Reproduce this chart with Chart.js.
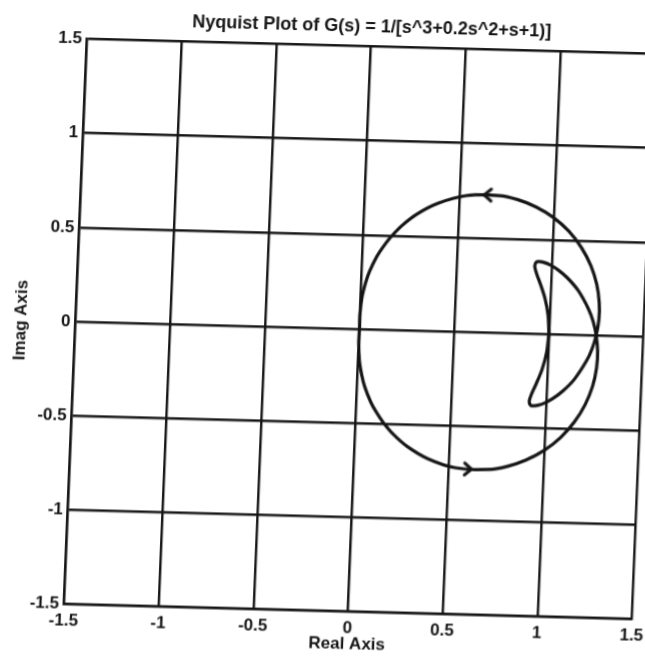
<!DOCTYPE html>
<html>
<head>
<meta charset="utf-8">
<title>Nyquist Plot</title>
<script src="https://cdn.jsdelivr.net/npm/chart.js"></script>
<style>
  html, body { margin: 0; padding: 0; background: #fff; overflow: hidden; width: 645px; height: 661px; }
  /* the scanned figure is slightly skewed, so the whole chart is too */
  .wrap { position: absolute; left: 0; top: 0; width: 700px; height: 700px;
          transform-origin: 359.5px 329px; transform: matrix(1, 0.0264, -0.0407, 1, 0, 0); }
</style>
</head>
<body>
<div class="wrap"><canvas class="nyq" width="700" height="700"></canvas></div>
<script>
// G(jw) for w >= 0
const posRe = [1.000, 0.992, 0.972, 0.945, 0.922, 0.911, 0.920, 0.935, 0.959, 0.991, 1.034, 1.086, 1.146, 1.205, 1.231, 1.250, 1.261, 1.259, 1.242, 1.207, 1.154, 1.084, 1.000, 0.906, 0.808, 0.711, 0.533, 0.388, 0.279, 0.200, 0.144, 0.104, 0.075, 0.040, 0.022, 0.006, -0.001, 0.000];
const posIm = [0.000, -0.098, -0.188, -0.263, -0.320, -0.360, -0.381, -0.383, -0.379, -0.367, -0.342, -0.300, -0.234, -0.136, -0.073, 0.000, 0.083, 0.174, 0.270, 0.368, 0.462, 0.547, 0.618, 0.672, 0.708, 0.727, 0.722, 0.678, 0.618, 0.553, 0.491, 0.435, 0.386, 0.306, 0.246, 0.167, 0.076, 0.000];
// w <= 0 (mirror branch)
const negRe = [1.000, 0.992, 0.972, 0.945, 0.922, 0.911, 0.920, 0.935, 0.959, 0.991, 1.034, 1.086, 1.146, 1.205, 1.231, 1.250, 1.261, 1.259, 1.242, 1.207, 1.154, 1.084, 1.000, 0.906, 0.808, 0.711, 0.533, 0.388, 0.279, 0.200, 0.144, 0.104, 0.075, 0.040, 0.022, 0.006, -0.001, 0.000];
const negIm = [0.000, 0.098, 0.188, 0.263, 0.320, 0.360, 0.381, 0.383, 0.379, 0.367, 0.342, 0.300, 0.234, 0.136, 0.073, 0.000, -0.083, -0.174, -0.270, -0.368, -0.462, -0.547, -0.618, -0.672, -0.708, -0.727, -0.722, -0.678, -0.618, -0.553, -0.491, -0.435, -0.386, -0.306, -0.246, -0.167, -0.076, 0.000];

// direction arrows on the big loop
const arrowRe = [0.65, 0.60];
const arrowIm = [0.729, -0.728];
const arrowRot = [0, 180];

const xTicks = [-1.5, -1, -0.5, 0, 0.5, 1, 1.5];
const xTickLabels = ['-1.5', '-1', '-0.5', '0', '0.5', '1', '1.5'];
const yTicks = [-1.5, -1, -0.5, 0, 0.5, 1, 1.5];
const yTickLabels = ['-1.5', '-1', '-0.5', '0', '0.5', '1', '1.5'];

const titleText = 'Nyquist Plot of G(s) = 1/[s^3+0.2s^2+s+1)]';
const ink = '#141414';
const fam = '"Liberation Sans", Arial, Helvetica, sans-serif';

function toPts(xs, ys) {
    return xs.map((x, i) => ({ x: x, y: ys[i] }));
}

// small open arrow head "<"
const chevron = document.createElement('canvas');
chevron.width = 18;
chevron.height = 18;
const cc = chevron.getContext('2d');
cc.strokeStyle = ink;
cc.lineWidth = 3;
cc.lineCap = 'round';
cc.lineJoin = 'round';
cc.beginPath();
cc.moveTo(12, 3);
cc.lineTo(5, 9);
cc.lineTo(12, 15);
cc.stroke();

const curve = {
    showLine: true,
    borderColor: ink,
    borderWidth: 3.2,
    borderJoinStyle: 'round',
    pointRadius: 0,
    tension: 0.3,
    fill: false
};

const axisFont = { family: fam, size: 17, weight: 'bold' };
const labelFont = { family: fam, size: 17, weight: 'bold' };

new Chart(document.querySelector('.nyq'), {
    type: 'scatter',
    data: {
        datasets: [
            Object.assign({ data: toPts(posRe, posIm) }, curve),
            Object.assign({ data: toPts(negRe, negIm) }, curve),
            {
                data: toPts(arrowRe, arrowIm),
                showLine: false,
                pointStyle: chevron,
                pointRotation: arrowRot,
                pointRadius: 9
            }
        ]
    },
    options: {
        responsive: false,
        animation: false,
        devicePixelRatio: 1,
        layout: { padding: { top: 0, left: 0, right: 56.5, bottom: 43.5 } },
        plugins: {
            legend: { display: false },
            tooltip: { enabled: false },
            title: {
                display: true,
                text: titleText,
                fullSize: false,
                color: ink,
                font: { family: fam, size: 18, weight: 'bold' },
                padding: { top: 16, bottom: 8.9 }
            }
        },
        scales: {
            x: {
                type: 'linear',
                min: -1.5,
                max: 1.5,
                afterBuildTicks: s => { s.ticks = xTicks.map(v => ({ value: v })); },
                afterFit: s => { s.height = 45; },
                ticks: {
                    color: ink,
                    font: axisFont,
                    padding: 7,
                    maxRotation: 0,
                    autoSkip: false,
                    callback: (v, i) => xTickLabels[i]
                },
                grid: { color: ink, lineWidth: 2.4, drawTicks: false },
                border: { color: ink, width: 2.4 },
                title: {
                    display: true,
                    text: 'Real Axis',
                    color: ink,
                    font: labelFont,
                    padding: { top: 0, bottom: 2 }
                }
            },
            y: {
                type: 'linear',
                min: -1.5,
                max: 1.5,
                afterBuildTicks: s => { s.ticks = yTicks.map(v => ({ value: v })); },
                afterFit: s => { s.width = 75.5; },
                ticks: {
                    color: ink,
                    font: axisFont,
                    padding: 5,
                    autoSkip: false,
                    callback: (v, i) => yTickLabels[i]
                },
                grid: { color: ink, lineWidth: 2.4, drawTicks: false },
                border: { color: ink, width: 2.4 },
                title: {
                    display: true,
                    text: 'Imag Axis',
                    color: ink,
                    font: labelFont,
                    padding: { top: 11, bottom: 0 }
                }
            }
        }
    }
});
</script>
</body>
</html>
